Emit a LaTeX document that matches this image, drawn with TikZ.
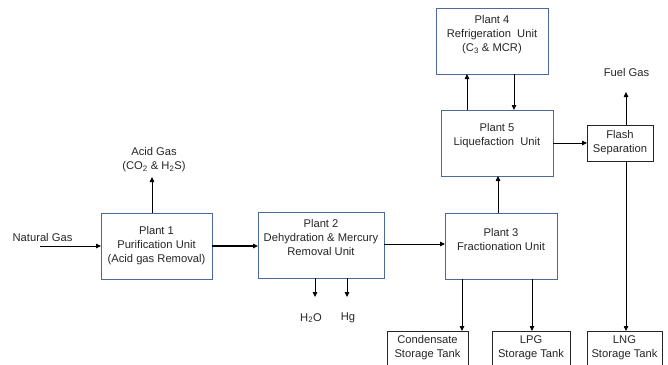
\documentclass[tikz,border=0pt]{standalone}
\usepackage{fontspec}
\setmainfont{Liberation Sans}
\usetikzlibrary{arrows.meta}
\definecolor{plantblue}{RGB}{75,105,155}
\begin{document}
\begin{tikzpicture}[x=1pt,y=-1pt,
  plantbox/.style={draw=plantblue,line width=0.9pt,inner sep=0pt,outer sep=0pt,fill=white},
  blackbox/.style={draw=black!85,line width=0.8pt,inner sep=0pt,outer sep=0pt,fill=white},
  txt/.style={align=center,inner sep=0pt,font=\fontsize{11.2}{14}\selectfont,text=black!85},
  arr/.style={draw=black,line width=0.8pt,-{Triangle[length=5pt,width=4.5pt]}}]
\useasboundingbox (0,0) rectangle (668,364);
\fill[white] (0,0) rectangle (668,364);

% boxes
\node[plantbox,minimum width=111pt,minimum height=66pt] (p1) at (156.5,246) {};
\node[plantbox,minimum width=126pt,minimum height=66pt] (p2) at (321,245) {};
\node[plantbox,minimum width=112pt,minimum height=66pt] (p3) at (501,246) {};
\node[plantbox,minimum width=112pt,minimum height=66pt] (p5) at (497,143) {};
\node[plantbox,minimum width=112pt,minimum height=66pt] (p4) at (492,41) {};
\node[blackbox,minimum width=66pt,minimum height=36pt] (flash) at (620,143) {};
\node[blackbox,minimum width=81pt,minimum height=36pt] (cond) at (427.5,349) {};
\node[blackbox,minimum width=78pt,minimum height=36pt] (lpg) at (531,349) {};
\node[blackbox,minimum width=75pt,minimum height=36pt] (lng) at (624.5,349) {};

% box texts
\node[txt] (p1t) at (156.5,246) {Plant 1\\Purification Unit\\(Acid gas Removal)};
\node[txt] (p2t) at (321,237) {Plant 2\\Dehydration \& Mercury\\Removal Unit};
\node[txt] (p3t) at (501,239) {Plant 3\\Fractionation Unit};
\node[txt] (p5t) at (497,135.5) {Plant 5\\Liquefaction\ \ Unit};
\node[txt] (p4t) at (492,34.5) {Plant 4\\Refrigeration\ \ Unit\\(C\textsubscript{3} \& MCR)};
\node[txt] (flasht) at (620,143) {Flash\\Separation};
\node[txt] (condt) at (427.5,348) {Condensate\\Storage Tank};
\node[txt] (lpgt) at (531,348) {LPG\\Storage Tank};
\node[txt] (lngt) at (624.5,348) {LNG\\Storage Tank};

% free labels
\node[txt] (natural) at (42.5,237) {Natural Gas};
\node[txt] (acid) at (154,159.5) {Acid Gas\\(CO\textsubscript{2} \& H\textsubscript{2}S)};
\node[txt] (h2o) at (311,318) {H\textsubscript{2}O};
\node[txt] (hg) at (348,318) {Hg};
\node[txt] (fuel) at (626.5,72) {Fuel Gas};

% free ends / guide coordinates
\coordinate (natstart) at (40,246);
\coordinate (acidtip) at (152,177);
\coordinate (h2otip) at (315,297);
\coordinate (hgtip) at (347,297);
\coordinate (fueltip) at (626,92);
\coordinate (x35) at (498,0);
\coordinate (x54) at (467,0);
\coordinate (x45) at (514,0);
\coordinate (xcond) at (462,0);
\coordinate (xlpg) at (532,0);

% connectors
\draw[arr] (natstart) -- (natstart -| p1.west);
\draw[arr] (p1.north -| acidtip) -- (acidtip);
\draw[arr,line width=1.2pt] (p1.east) -- (p1.east -| p2.west);
\draw[arr] (p2.south -| h2otip) -- (h2otip);
\draw[arr] (p2.south -| hgtip) -- (hgtip);
\draw[arr] ([yshift=1pt]p2.east) -- ([yshift=1pt]p2.east -| p3.west);
\draw[arr] (p3.north -| x35) -- (p5.south -| x35);
\draw[arr] (p5.north -| x54) -- (p4.south -| x54);
\draw[arr] (p4.south -| x45) -- (p5.north -| x45);
\draw[arr] (p5.east) -- (p5.east -| flash.west);
\draw[arr] (flash.north -| fueltip) -- (fueltip);
\draw[arr] (flash.south -| fueltip) -- (lng.north -| fueltip);
\draw[arr] (p3.south -| xcond) -- (cond.north -| xcond);
\draw[arr] (p3.south -| xlpg) -- (lpg.north -| xlpg);
\end{tikzpicture}
\end{document}
